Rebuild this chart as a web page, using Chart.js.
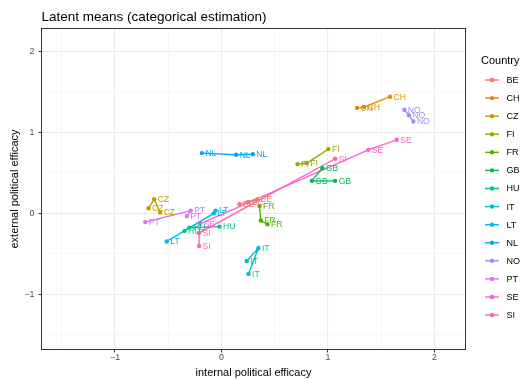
<!DOCTYPE html>
<html>
<head>
<meta charset="utf-8">
<script src="https://cdn.jsdelivr.net/npm/chart.js@4.4.0/dist/chart.umd.min.js"></script>
<style>
  html, body { margin: 0; padding: 0; background: #ffffff; }
  #wrap { width: 525px; height: 380px; position: relative; }
</style>
</head>
<body>
<div id="wrap"><canvas id="chart" width="525" height="380"></canvas></div>
<script>
// Country codes, in legend order
const countries = ['BE', 'CH', 'CZ', 'FI', 'FR', 'GB', 'HU', 'IT', 'LT', 'NL', 'NO', 'PT', 'SE', 'SI'];

// Latent means per country (three estimates each, joined in this order)
const internalEfficacy = [
  [0.169, 0.251, 0.335],    // BE
  [1.274, 1.340, 1.584],    // CH
  [-0.685, -0.632, -0.576], // CZ
  [0.714, 0.802, 1.005],    // FI
  [0.357, 0.370, 0.432],    // FR
  [0.948, 0.849, 1.068],    // GB
  [-0.347, -0.300, -0.019], // HU
  [0.238, 0.347, 0.254],    // IT
  [-0.514, -0.073, -0.056], // LT
  [-0.184, 0.138, 0.295],   // NL
  [1.718, 1.760, 1.803],    // NO
  [-0.716, -0.288, -0.325], // PT
  [-0.200, 1.380, 1.647],   // SE
  [1.068, -0.210, -0.210]   // SI
];
const externalEfficacy = [
  [0.111, 0.139, 0.173],    // BE
  [1.300, 1.310, 1.438],    // CH
  [0.061, 0.173, 0.007],    // CZ
  [0.606, 0.619, 0.791],    // FI
  [0.090, -0.091, -0.136],  // FR
  [0.556, 0.399, 0.399],    // GB
  [-0.219, -0.178, -0.166], // HU
  [-0.590, -0.433, -0.750], // IT
  [-0.349, -0.003, 0.032],  // LT
  [0.742, 0.721, 0.729],    // NL
  [1.277, 1.210, 1.132],    // NO
  [-0.110, 0.032, -0.037],  // PT
  [-0.132, 0.782, 0.906],   // SE
  [0.672, -0.245, -0.406]   // SI
];

// Axis breaks
const majorBreaks = [-1, 0, 1, 2];
const gridBreaks = [-1.5, -1, -0.5, 0, 0.5, 1, 1.5, 2];

// Discrete hue palette
const palette = ['#F8766D', '#E38900', '#C49A00', '#99A800', '#53B400', '#00BC56', '#00C094',
                 '#00BFC4', '#00B6EB', '#06A4FF', '#A58AFF', '#DF70F8', '#FB61D7', '#FF66A8'];

const FONT = '"Liberation Sans", Arial, Helvetica, sans-serif';

const datasets = countries.map((name, i) => ({
  label: name,
  data: internalEfficacy[i].map((x, j) => ({ x: x, y: externalEfficacy[i][j] })),
  showLine: true,
  borderColor: palette[i],
  backgroundColor: palette[i],
  borderWidth: 1.4,
  pointRadius: 2.2,
  pointHoverRadius: 2.2,
  pointBorderWidth: 0,
  tension: 0
}));

const isMajor = v => majorBreaks.indexOf(v) !== -1;
const fmt = v => (v < 0 ? '\u2212' + Math.abs(v) : String(v));

function axisOptions(min, max, titleText, isX) {
  return {
    type: 'linear',
    min: min,
    max: max,
    afterBuildTicks: s => { s.ticks = gridBreaks.map(v => ({ value: v })); },
    afterFit: s => { if (isX) s.height = 31; else s.width = 42; },
    ticks: {
      autoSkip: false,
      maxRotation: 0,
      padding: isX ? 0 : 4,
      color: '#4D4D4D',
      font: { family: FONT, size: 8.8 },
      callback: v => (isMajor(v) ? fmt(v) : '')
    },
    grid: {
      drawOnChartArea: true,
      color: c => (c.tick && isMajor(c.tick.value) ? '#EBEBEB' : '#F2F2F2'),
      lineWidth: c => (c.tick && isMajor(c.tick.value) ? 1.1 : 0.6),
      tickColor: c => (c.tick && isMajor(c.tick.value) ? '#333333' : 'rgba(0,0,0,0)'),
      tickLength: 3.5,
      tickWidth: 1
    },
    border: { display: false },
    title: {
      display: true,
      text: titleText,
      color: '#000000',
      font: { family: FONT, size: 11 },
      padding: isX ? { top: 0, bottom: 0 } : { top: 8, bottom: 0 }
    }
  };
}

// Country labels, panel border, title and legend
const decorations = {
  id: 'decorations',
  afterDatasetsDraw(chart) {
    const ctx = chart.ctx;
    const xs = chart.scales.x, ys = chart.scales.y;
    ctx.save();
    ctx.font = '8.6px ' + FONT;
    ctx.textAlign = 'left';
    ctx.textBaseline = 'middle';
    countries.forEach((name, i) => {
      ctx.fillStyle = palette[i];
      internalEfficacy[i].forEach((x, j) => {
        const px = xs.getPixelForValue(x);
        const py = ys.getPixelForValue(externalEfficacy[i][j]);
        ctx.fillText(name, px + 3.5, py + 0.5);
      });
    });
    ctx.restore();
  },
  afterDraw(chart) {
    const ctx = chart.ctx;
    const a = chart.chartArea;
    ctx.save();
    // panel border
    ctx.strokeStyle = '#333333';
    ctx.lineWidth = 1;
    ctx.strokeRect(a.left - 0.5, a.top - 0.5, a.right - a.left + 1, a.bottom - a.top + 1);

    // title
    ctx.fillStyle = '#000000';
    ctx.font = '13.5px ' + FONT;
    ctx.textAlign = 'left';
    ctx.textBaseline = 'middle';
    ctx.fillText('Latent means (categorical estimation)', a.left - 0.5, 17);

    // legend
    ctx.font = '11px ' + FONT;
    ctx.fillText('Country', 481, 61);
    ctx.font = '9px ' + FONT;
    countries.forEach((name, i) => {
      const y = 80 + i * 18.08;
      ctx.strokeStyle = palette[i];
      ctx.lineWidth = 1.4;
      ctx.beginPath();
      ctx.moveTo(485, y);
      ctx.lineTo(499, y);
      ctx.stroke();
      ctx.fillStyle = palette[i];
      ctx.beginPath();
      ctx.arc(492, y, 2.2, 0, Math.PI * 2);
      ctx.fill();
      ctx.fillStyle = '#000000';
      ctx.fillText(name, 506.5, y + 0.5);
    });
    ctx.restore();
  }
};

new Chart(document.getElementById('chart'), {
  type: 'scatter',
  data: { datasets: datasets },
  options: {
    responsive: false,
    animation: false,
    devicePixelRatio: 1,
    layout: { padding: { left: 0, top: 29, right: 60, bottom: 0 } },
    plugins: {
      legend: { display: false },
      tooltip: { enabled: false },
      title: { display: false }
    },
    scales: {
      x: axisOptions(-1.686, 2.288, 'internal political efficacy', true),
      y: axisOptions(-1.677, 2.274, 'external political efficacy', false)
    }
  },
  plugins: [decorations]
});
</script>
</body>
</html>
